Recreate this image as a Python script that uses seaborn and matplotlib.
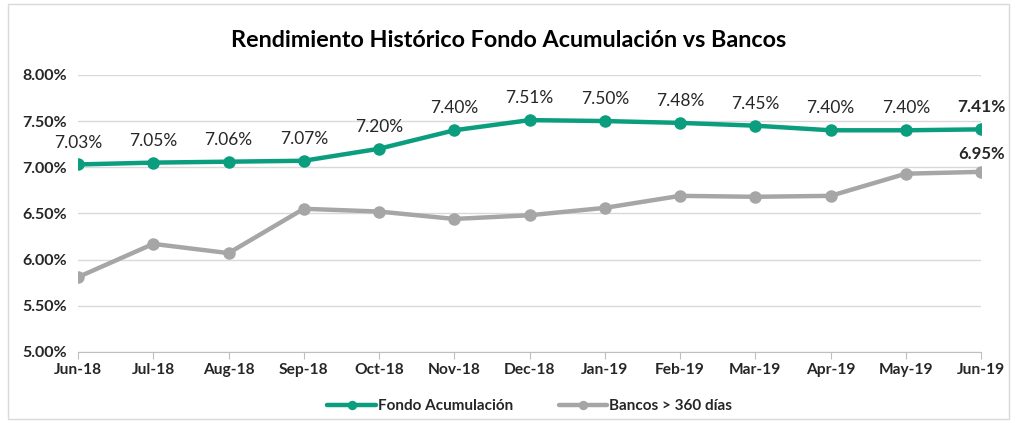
import pandas as pd
import matplotlib.pyplot as plt
import seaborn as sns

months = ['Jun-18', 'Jul-18', 'Aug-18', 'Sep-18', 'Oct-18', 'Nov-18', 'Dec-18',
          'Jan-19', 'Feb-19', 'Mar-19', 'Apr-19', 'May-19', 'Jun-19']
fondo = [7.03, 7.05, 7.06, 7.07, 7.20, 7.40, 7.51, 7.50, 7.48, 7.45, 7.40, 7.40, 7.41]
bancos = [5.81, 6.17, 6.07, 6.55, 6.52, 6.44, 6.48, 6.56, 6.69, 6.68, 6.69, 6.93, 6.95]
series_names = ['Fondo Acumulación', 'Bancos > 360 días']
colors = ['#0a9e7e', '#a6a6a6']

df = pd.DataFrame({
    'Mes': months * 2,
    'Rendimiento': fondo + bancos,
    'Serie': [series_names[0]] * len(months) + [series_names[1]] * len(months),
})

sns.set_style('white')
plt.rcParams['font.family'] = ['Lato', 'DejaVu Sans']

fig = plt.figure(figsize=(10.17, 4.23), dpi=100)
ax = fig.add_axes([0.0767, 0.168, 0.888, 0.655])

sns.lineplot(data=df, x='Mes', y='Rendimiento', hue='Serie', palette=colors,
             marker='o', markersize=9, markeredgewidth=0, linewidth=3.2,
             sort=False, ax=ax)

# data labels
for i, v in enumerate(fondo):
    last = i == len(fondo) - 1
    ax.annotate(f'{v:.2f}%', (i, v), xytext=(0, 10), textcoords='offset points',
                ha='center', va='bottom', fontsize=12.5, color='#262626',
                fontweight='bold' if last else 'normal')
ax.annotate(f'{bancos[-1]:.2f}%', (len(bancos) - 1, bancos[-1]), xytext=(0, 7),
            textcoords='offset points', ha='center', va='bottom', fontsize=12,
            color='#262626', fontweight='bold')

ax.set_ylim(5.0, 8.0)
ax.set_xlim(0, len(months) - 1)
ax.set_yticks([5.0, 5.5, 6.0, 6.5, 7.0, 7.5, 8.0])
ax.set_yticklabels([f'{t:.2f}%' for t in ax.get_yticks()])
ax.grid(axis='y', color='#d9d9d9', linewidth=1)
ax.set_axisbelow(True)
for s in ['top', 'right', 'left']:
    ax.spines[s].set_visible(False)
ax.spines['bottom'].set_color('#bfbfbf')
ax.tick_params(axis='x', which='both', bottom=True, length=5, color='#bfbfbf',
               pad=3, labelsize=11.2)
ax.tick_params(axis='y', length=0, pad=8, labelsize=11.5)
for lbl in ax.get_xticklabels() + ax.get_yticklabels():
    lbl.set_fontweight('bold')
    lbl.set_color('#262626')
ax.set_xlabel('')
ax.set_ylabel('')

fig.suptitle('Rendimiento Histórico Fondo Acumulación vs Bancos', y=0.93,
             fontsize=16.8, fontweight='bold', color='#000000')

leg = ax.legend(loc='upper center', bbox_to_anchor=(0.5, -0.12), ncol=2,
                frameon=False, fontsize=11, handlelength=3.2, columnspacing=3,
                handletextpad=0.1, markerscale=0.75)
for t in leg.get_texts():
    t.set_fontweight('bold')
    t.set_color('#262626')

fig.add_artist(plt.Rectangle((0.008, 0.01), 0.984, 0.98, transform=fig.transFigure,
                             fill=False, edgecolor='#d9d9d9', linewidth=1))

plt.savefig('out.png', dpi=100)
